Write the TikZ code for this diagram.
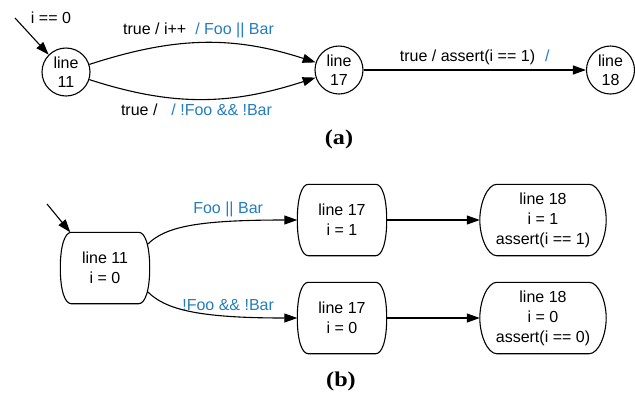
\documentclass[tikz,border=0pt]{standalone}
\usepackage{fontspec}
\setmainfont{Liberation Sans}
\newfontfamily\capfont{Liberation Serif}
\usetikzlibrary{arrows.meta,calc}
\definecolor{lblue}{RGB}{35,125,190}
\begin{document}
\begin{tikzpicture}[x=1pt,y=1pt,
  every node/.style={font=\fontsize{16}{19}\selectfont},
  st/.style={circle,draw,line width=1.1pt,minimum size=48pt,inner sep=0pt,align=center},
  bx/.style={draw=none,inner sep=0pt,align=center,minimum height=71pt,font=\fontsize{16}{20}\selectfont},
  conn/.style={line width=1.1pt,-{Triangle[length=13pt,width=9pt]}},
  lb/.style={text=lblue},
  captxt/.style={font=\capfont\bfseries\fontsize{21}{24}\selectfont,xscale=1.15}]

\useasboundingbox (0,0) rectangle (635,-392);

% ---------- (a) ----------
\node[st] (c11) at (66,-72) {line\\11};
\node[st] (c17) at (339,-70) {line\\17};
\node[st] (c18) at (610.5,-70) {line\\18};

\coordinate (i0) at (15,-18);
\draw[conn] (i0) -- (c11.135);
\node (l0) at (51,-18) {i == 0};

\draw[conn] (c11) to[out=18,in=162]
  node[above=1pt,xshift=-4pt] {true / i++\hspace{9pt}\textcolor{lblue}{/ Foo || Bar}} (c17);
\draw[conn] (c11) to[out=-18,in=-162]
  node[below=1pt,xshift=-6pt] {true /\hspace{14pt}\textcolor{lblue}{/ !Foo \&\& !Bar}} (c17);
\draw[conn] (c17) --
  node[above=1pt] {true / assert(i == 1)\hspace{10pt}\textcolor{lblue}{/}} (c18);

\node[captxt] (la) at (339,-139.5) {(a)};

% ---------- (b) ----------
\node[bx,minimum width=89pt] (b11) at (105,-268) {line 11\\i = 0};
\node[bx,minimum width=89pt] (b17a) at (342,-220) {line 17\\i = 1};
\node[bx,minimum width=89pt] (b17b) at (342,-318) {line 17\\i = 0};
\node[bx,minimum width=126pt] (b18a) at (543,-220) {line 18\\i = 1\\assert(i == 1)};
\node[bx,minimum width=126pt] (b18b) at (543,-318) {line 18\\i = 0\\assert(i == 0)};

\foreach \n/\c in {b11/11,b17a/11,b17b/11,b18a/17,b18b/17}{
  \draw[line width=1.1pt,line join=round]
    ($(\n.north west)+(\c,0)$) -- ($(\n.north east)+(-\c,0)$)
    .. controls ($(\n.north east)+(-0.45*\c,0)$) and ($(\n.north east)+(0,-1.1*\c)$) .. (\n.east)
    .. controls ($(\n.south east)+(0,1.1*\c)$) and ($(\n.south east)+(-0.45*\c,0)$) .. ($(\n.south east)+(-\c,0)$)
    -- ($(\n.south west)+(\c,0)$)
    .. controls ($(\n.south west)+(0.45*\c,0)$) and ($(\n.south west)+(0,1.1*\c)$) .. (\n.west)
    .. controls ($(\n.north west)+(0,-1.1*\c)$) and ($(\n.north west)+(0.45*\c,0)$) .. ($(\n.north west)+(\c,0)$) -- cycle;
}

\coordinate (i1) at (47,-204);
\draw[conn] (i1) -- ($(b11.north west)+(10,0)$);

\draw[conn,shorten <=-3pt] (b11.30) .. controls +(45:22) and +(-100,0) ..
  node[pos=0.72,above=1pt,lb] {Foo || Bar} (b17a.west);
\draw[conn,shorten <=-3pt] (b11.-30) .. controls +(-45:22) and +(-100,0) ..
  node[pos=0.72,above=1pt,lb] {!Foo \&\& !Bar} (b17b.west);

\draw[conn] (b17a) -- (b18a);
\draw[conn] (b17b) -- (b18b);

\node[captxt] (lb) at (341,-381.5) {(b)};
\end{tikzpicture}
\end{document}
